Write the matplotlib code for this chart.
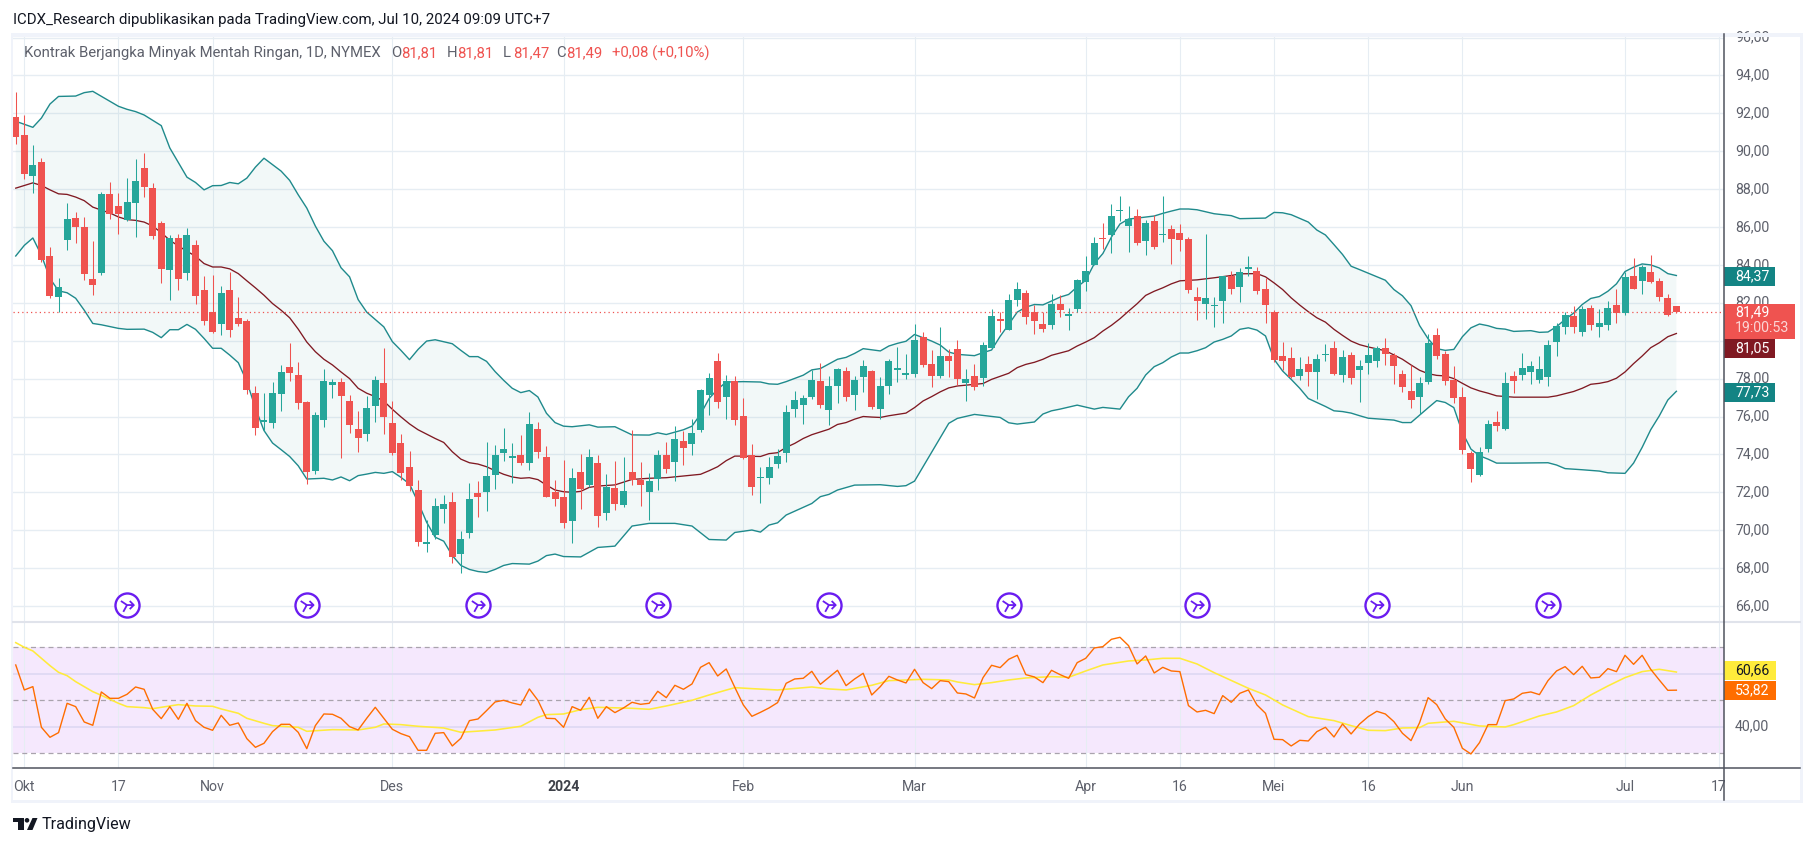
import numpy as np
import matplotlib
matplotlib.use('Agg')
import matplotlib.pyplot as plt
from matplotlib.path import Path
from matplotlib.patches import Rectangle, Circle, Polygon
from matplotlib.transforms import ScaledTranslation

plt.rcParams['font.family'] = ['Roboto', 'DejaVu Sans']

# daily candles
opens = [91.81,90.86,88.67,89.44,84.49,82.30,85.30,86.49,86.02,83.28,
    83.56,87.75,87.12,86.39,87.25,89.12,88.07,86.23,83.72,85.44,
    83.56,85.07,82.65,81.53,80.88,82.65,81.18,81.02,77.22,75.72,
    75.67,77.19,78.60,78.20,76.75,73.14,75.82,77.65,77.81,76.81,
    75.33,75.07,76.54,77.75,75.65,74.59,73.33,72.12,69.28,69.75,
    71.12,71.49,68.75,69.86,71.96,72.02,72.91,74.07,73.81,73.96,
    73.54,75.33,73.86,72.02,71.75,70.49,73.07,72.39,73.54,70.93,
    72.23,71.35,73.07,72.65,72.02,72.72,73.96,73.60,74.70,74.54,
    75.28,77.12,78.91,77.02,77.86,76.02,73.96,72.77,72.75,73.49,
    74.07,76.39,76.60,77.02,77.86,76.33,77.60,78.39,77.12,78.07,
    78.39,76.39,77.60,78.44,78.18,78.23,80.17,78.75,78.12,79.18,
    79.54,77.75,78.12,78.02,79.60,81.17,80.54,82.17,82.54,81.49,
    80.86,80.81,81.96,81.28,81.65,83.12,84.02,85.42,85.60,86.86,
    86.07,86.60,85.28,86.33,85.56,85.91,85.70,85.39,82.28,81.96,
    81.81,82.07,83.39,82.81,83.81,83.70,82.75,81.49,79.18,79.07,
    78.12,78.75,78.33,79.25,79.60,78.18,79.23,78.44,78.81,78.91,
    79.60,79.23,78.23,77.33,77.02,77.81,80.28,79.28,77.91,77.02,
    74.07,72.91,74.28,75.70,75.33,78.12,78.17,78.33,77.91,78.07,
    79.91,80.70,81.28,80.44,81.70,80.70,80.81,81.86,81.44,83.44,
    83.17,83.60,83.17,82.23,81.81]
closes = [90.77,88.82,89.28,84.25,82.35,82.86,86.44,85.98,83.51,82.93,
    87.75,86.67,86.67,87.33,88.44,88.09,85.51,83.77,85.44,83.25,
    85.60,82.35,81.03,80.44,82.54,80.56,80.88,77.40,75.40,75.80,
    77.22,78.33,78.30,76.70,73.09,76.07,77.86,77.81,77.07,75.54,
    74.86,76.44,77.91,75.96,74.07,73.02,72.33,69.38,69.38,71.28,
    71.38,68.59,69.54,71.65,71.75,72.86,73.96,74.28,73.91,73.54,
    75.59,74.12,71.75,71.65,70.38,72.75,72.18,73.86,70.77,72.28,
    71.39,72.07,72.65,72.39,72.60,73.96,73.23,74.81,74.33,75.12,
    77.39,78.02,76.75,77.86,75.81,73.81,72.28,72.81,73.33,73.91,
    76.23,76.86,76.96,77.91,76.60,77.60,78.49,77.02,77.91,78.65,
    76.49,77.60,78.91,78.54,78.28,80.02,78.70,78.12,79.18,78.91,
    77.96,77.96,77.54,79.75,81.28,81.02,82.17,82.75,81.23,81.02,
    80.60,81.96,81.60,81.39,83.18,83.70,85.17,85.38,86.60,86.90,
    86.44,85.17,86.23,84.97,85.65,85.39,85.33,82.65,82.07,82.23,
    81.91,83.39,82.75,83.60,83.86,82.60,81.91,78.96,78.91,78.07,
    78.49,78.33,79.02,79.28,78.23,79.12,78.02,78.65,79.23,79.60,
    79.28,78.65,77.54,76.86,77.75,79.86,79.17,77.86,76.96,74.23,
    73.23,74.12,75.60,75.49,77.75,77.86,78.54,78.65,78.49,79.75,
    80.75,81.33,80.70,81.65,80.81,80.91,81.75,81.47,83.38,82.75,
    83.91,83.12,82.28,81.38,81.49]
highs = [93.10,91.91,90.33,89.65,84.97,83.33,87.28,86.81,86.54,85.28,
    87.86,88.39,87.81,88.60,89.60,89.91,88.33,86.33,85.60,85.65,
    85.96,85.33,83.44,83.49,82.91,83.65,82.33,81.12,77.59,77.22,
    77.81,78.70,79.86,78.86,76.81,76.23,78.49,77.96,78.02,77.12,
    76.28,77.07,78.12,79.59,76.81,75.07,74.17,72.65,70.54,71.70,
    71.86,72.02,69.96,72.49,72.59,74.65,74.49,75.38,74.59,75.02,
    76.23,75.70,74.44,72.65,73.70,73.28,74.02,74.28,73.96,72.96,
    73.65,73.86,75.28,73.60,73.02,74.23,74.65,75.49,75.23,75.86,
    77.45,78.28,79.33,78.18,78.12,76.96,74.54,73.33,73.86,74.28,
    76.60,77.33,77.12,78.44,78.81,78.12,78.54,78.60,78.12,78.96,
    78.44,78.07,79.02,79.65,79.28,80.86,80.44,79.49,80.70,79.54,
    80.02,78.49,78.75,79.91,81.65,81.49,82.49,83.12,82.65,81.91,
    81.49,82.49,82.39,81.75,83.23,84.49,85.49,86.23,87.23,87.65,
    87.12,86.96,86.39,86.65,87.65,86.12,86.17,85.49,82.86,85.65,
    82.28,83.44,83.70,83.86,84.49,83.91,83.33,81.60,79.91,79.65,
    79.12,79.18,79.28,79.81,79.96,79.49,79.39,78.96,79.86,79.70,
    80.12,79.33,78.44,78.70,78.07,80.33,80.65,79.44,78.65,77.54,
    74.17,74.38,75.81,76.28,78.33,78.38,79.33,78.91,79.17,80.02,
    80.96,81.54,81.81,81.81,81.91,81.65,82.07,82.75,83.60,84.38,
    84.02,84.54,83.33,82.49,81.81]
lows = [90.38,88.51,87.82,84.16,82.23,81.52,84.77,85.17,83.19,82.40,
    83.46,86.40,85.65,86.30,85.49,87.60,85.39,83.02,82.14,82.67,
    83.19,81.93,80.81,80.39,80.30,80.18,80.75,77.18,75.02,75.26,
    75.39,76.28,77.86,76.38,72.44,72.96,75.45,76.96,73.81,75.12,
    74.12,74.70,75.70,75.07,73.96,72.65,72.07,69.17,68.86,69.54,
    70.38,68.28,67.75,69.59,70.70,71.02,72.17,73.65,72.49,73.44,
    73.17,73.81,71.75,71.28,70.12,69.33,71.12,72.28,70.18,70.56,
    71.07,71.25,72.39,71.28,70.54,72.12,73.02,72.60,73.44,73.96,
    75.18,76.07,76.44,75.86,75.54,73.75,71.86,71.44,72.44,73.28,
    73.60,75.96,75.60,76.91,76.44,75.54,76.70,76.81,76.33,77.28,
    76.39,75.86,77.17,77.81,77.96,78.07,78.60,77.54,78.02,78.07,
    77.65,76.81,77.39,77.60,79.60,80.44,80.54,81.81,80.86,80.33,
    80.44,80.60,81.23,80.54,81.54,82.60,84.02,84.86,84.65,86.33,
    84.70,85.07,84.54,84.86,85.23,84.07,84.75,82.54,81.07,81.12,
    80.70,80.91,82.44,82.02,83.39,82.44,80.96,78.86,78.44,78.02,
    77.91,77.60,76.91,78.91,78.18,77.81,77.70,76.75,78.23,78.60,
    78.70,77.70,77.28,76.44,76.12,77.70,79.02,77.65,76.70,74.02,
    72.54,72.86,74.12,75.23,75.28,77.23,77.91,77.70,77.75,77.60,
    79.17,80.33,80.38,80.23,80.54,80.17,80.54,80.96,81.38,82.75,
    82.49,83.02,82.07,81.28,81.47]

# bollinger bands, (bar, price) at the bends of each line
upper_pts = [(0,91.58),(2,91.26),(3,91.75),(4,92.49),(5,92.89),(7,92.91),(8,93.09),(9,93.16),(12,92.37),(13,92.21),
    (14,92.09),(15,91.91),(17,91.35),(18,90.17),(20,88.63),(21,88.35),(22,87.96),(23,88.18),(24,88.19),(25,88.35),
    (26,88.28),(27,88.58),(28,89.16),(29,89.63),(31,88.95),(32,88.46),(33,87.70),(34,87.00),(35,86.05),(36,85.25),
    (37,84.75),(38,83.85),(39,83.37),(40,82.17),(41,81.51),(43,80.73),(44,79.95),(45,79.49),(46,79.00),(47,79.54),
    (48,79.98),(49,80.05),(51,79.84),(52,79.49),(53,79.16),(54,79.16),(55,78.91),(56,78.37),(57,77.91),(58,77.49),
    (59,77.26),(60,77.37),(61,77.03),(62,76.17),(63,75.68),(64,75.49),(65,75.46),(67,75.56),(68,75.44),(70,75.46),
    (72,75.03),(74,75.02),(75,75.14),(76,75.05),(78,75.30),(79,75.49),(80,76.12),(81,76.95),(82,77.44),(83,77.82),
    (85,77.84),(87,77.82),(88,77.72),(89,77.70),(90,77.84),(92,78.18),(93,78.46),(94,78.53),(96,79.02),(97,79.12),
    (98,79.33),(99,79.58),(101,79.46),(102,79.72),(103,79.86),(104,79.97),(105,80.33),(107,79.98),(108,79.77),(109,79.40),
    (110,79.28),(112,79.21),(113,79.37),(114,79.51),(115,80.23),(116,80.86),(117,81.51),(118,81.77),(119,81.91),(120,81.89),
    (122,82.30),(123,82.44),(124,82.84),(125,83.19),(126,84.07),(127,84.60),(128,85.47),(129,86.16),(130,86.42),(131,86.47),
    (133,86.58),(134,86.72),(135,86.84),(136,86.95),(137,86.95),(138,86.91),(140,86.70),(142,86.60),(143,86.44),(146,86.47),
    (147,86.77),(148,86.75),(149,86.65),(151,86.26),(152,85.84),(153,85.58),(154,85.07),(155,84.55),(156,83.93),(157,83.75),
    (160,83.19),(161,82.70),(162,82.37),(163,81.85),(164,80.80),(165,80.10),(166,79.58),(167,79.49),(168,79.54),(169,80.21),
    (170,80.68),(171,80.88),(172,80.79),(173,80.65),(174,80.61),(175,80.49),(177,80.53),(178,80.44),(179,80.46),(180,80.74),
    (181,81.12),(182,81.46),(183,81.91),(184,82.23),(185,82.33),(186,82.61),(187,83.00),(188,83.65),(189,83.88),(190,84.05),
    (191,84.00),(192,83.84),(193,83.54),(194,83.44)]
basis_pts = [(0,88.05),(1,88.19),(2,88.33),(3,88.19),(4,87.96),(5,87.75),(6,87.72),(7,87.58),(8,87.39),(9,87.05),
    (10,86.89),(11,86.74),(12,86.53),(13,86.39),(14,86.35),(15,86.26),(16,86.05),(17,85.70),(18,85.30),(19,85.00),
    (20,84.72),(21,84.46),(22,84.07),(23,83.89),(24,83.89),(25,83.79),(26,83.54),(27,83.16),(28,82.79),(29,82.40),
    (30,81.96),(31,81.61),(32,81.21),(33,80.61),(34,79.93),(35,79.42),(36,79.02),(37,78.72),(38,78.35),(39,78.00),
    (40,77.49),(41,77.23),(42,77.05),(43,76.81),(44,76.38),(45,75.98),(46,75.61),(47,75.30),(48,75.07),(49,74.84),
    (50,74.63),(51,74.14),(52,73.75),(53,73.56),(54,73.49),(55,73.35),(56,73.14),(57,72.95),(58,72.81),(59,72.74),
    (60,72.77),(61,72.67),(62,72.38),(63,72.12),(64,72.03),(65,72.00),(66,72.05),(67,72.26),(68,72.33),(70,72.39),
    (72,72.68),(74,72.74),(76,72.77),(78,72.86),(80,72.95),(81,73.14),(82,73.35),(83,73.67),(84,73.91),(85,73.91),
    (87,73.89),(88,74.04),(89,74.09),(90,74.37),(91,74.58),(92,74.84),(93,75.04),(95,75.33),(96,75.58),(97,75.68),
    (98,75.86),(99,76.00),(100,75.97),(101,75.95),(102,76.04),(104,76.18),(105,76.47),(106,76.82),(107,77.05),(108,77.30),
    (109,77.51),(110,77.61),(112,77.70),(113,77.74),(114,77.96),(116,78.28),(117,78.58),(118,78.75),(119,78.86),(120,79.02),
    (121,79.23),(123,79.47),(124,79.72),(125,79.93),(126,80.16),(127,80.51),(128,80.81),(129,81.16),(130,81.56),(131,81.95),
    (132,82.39),(133,82.61),(134,82.79),(135,83.00),(136,83.16),(138,83.21),(140,83.32),(142,83.44),(143,83.53),(145,83.54),
    (146,83.37),(147,83.05),(148,82.70),(149,82.26),(150,81.88),(151,81.53),(152,81.21),(153,80.98),(154,80.60),(155,80.28),
    (156,79.98),(157,79.79),(158,79.67),(160,79.47),(161,79.25),(162,79.02),(163,78.72),(164,78.44),(165,78.26),(166,78.17),
    (167,78.14),(168,78.00),(169,77.75),(170,77.51),(171,77.35),(172,77.23),(173,77.09),(175,77.02),(179,77.02),(180,77.09),
    (182,77.32),(183,77.49),(184,77.70),(185,77.75),(186,77.84),(187,78.02),(188,78.35),(189,78.79),(190,79.19),(191,79.63),
    (192,79.89),(193,80.21),(194,80.38)]
lower_pts = [(0,84.47),(1,85.03),(2,85.42),(3,84.51),(4,83.28),(5,82.63),(6,82.53),(7,82.24),(8,81.61),(9,80.91),
    (10,80.84),(12,80.65),(13,80.60),(15,80.61),(16,80.44),(17,80.16),(18,80.58),(19,80.58),(20,80.86),(21,80.60),
    (22,80.12),(23,79.60),(24,79.60),(25,79.24),(26,78.84),(27,77.84),(28,76.44),(29,75.26),(30,74.60),(31,74.25),
    (32,73.89),(33,73.40),(34,72.70),(35,72.72),(36,72.74),(37,72.65),(38,72.81),(39,72.61),(40,72.88),(41,72.96),
    (42,73.05),(43,73.00),(44,73.09),(45,72.79),(46,72.44),(47,71.47),(48,70.42),(49,69.63),(50,69.42),(51,68.66),
    (52,68.14),(53,67.93),(54,67.82),(55,67.77),(56,67.93),(57,68.14),(58,68.24),(60,68.21),(61,68.37),(62,68.66),
    (63,68.74),(64,68.61),(66,68.59),(68,69.09),(70,69.16),(72,70.22),(74,70.36),(77,70.36),(79,70.22),(81,69.51),
    (83,69.48),(84,69.88),(86,70.01),(87,69.90),(88,70.27),(89,70.39),(90,70.80),(93,71.41),(94,71.77),(95,71.89),
    (96,72.12),(98,72.38),(101,72.40),(103,72.31),(104,72.35),(105,72.59),(109,75.64),(110,75.90),(112,76.11),(115,75.95),
    (116,75.67),(117,75.60),(119,75.71),(120,76.13),(121,76.30),(122,76.39),(124,76.60),(126,76.39),(127,76.48),(129,76.39),
    (130,77.04),(131,77.49),(132,78.19),(133,78.63),(134,78.84),(135,79.14),(136,79.35),(137,79.35),(138,79.47),(139,79.63),
    (140,79.93),(141,80.07),(142,80.25),(143,80.60),(144,80.68),(145,80.56),(146,80.25),(147,79.02),(148,78.40),(149,77.96),
    (150,77.49),(151,76.95),(152,76.74),(153,76.53),(154,76.30),(155,76.26),(156,76.18),(157,76.04),(158,75.91),(160,75.84),
    (161,75.81),(162,75.68),(163,75.68),(164,76.07),(165,76.46),(166,76.84),(167,76.74),(168,76.47),(169,75.16),(170,74.28),
    (171,73.93),(172,73.75),(173,73.54),(175,73.54),(179,73.56),(180,73.44),(181,73.25),(183,73.19),(185,73.12),(186,73.03),
    (188,73.00),(189,73.54),(190,74.37),(191,75.30),(192,76.03),(193,76.87),(194,77.33)]

# RSI pane
rsi = [63.33,53.90,55.16,39.81,36.04,37.80,48.87,47.61,41.82,40.57,
    53.15,50.75,50.75,52.26,55.03,54.15,46.60,43.08,47.61,42.83,
    48.87,42.33,39.81,38.68,44.34,40.57,41.45,35.53,32.26,33.77,
    38.17,40.94,40.94,37.92,31.76,40.44,44.84,44.72,43.21,40.06,
    38.80,43.21,47.36,43.21,39.06,37.42,36.29,31.13,31.13,37.55,
    37.80,32.77,35.66,42.33,42.95,46.10,49.37,50.00,49.00,48.24,
    54.28,50.00,43.21,43.08,39.81,47.61,46.22,51.13,43.21,47.61,
    45.35,47.11,49.25,48.49,48.87,53.40,51.00,55.66,54.15,56.16,
    62.45,64.21,59.18,61.82,54.91,48.24,43.96,45.47,47.11,49.12,
    56.41,58.05,58.30,60.94,56.04,58.68,61.32,55.53,58.05,60.19,
    52.01,55.16,59.05,57.67,56.54,
    61.70,56.67,54.40,57.42,57.04,52.77,52.39,50.88,58.55,63.21,
    62.33,65.47,66.98,59.69,58.81,56.67,61.32,59.69,58.30,64.21,
    65.85,69.75,70.25,73.02,73.77,70.63,63.71,66.73,60.31,62.45,
    61.07,60.82,47.99,45.60,46.22,44.97,51.76,49.25,52.64,53.90,
    48.24,45.09,35.28,35.16,32.77,34.90,34.65,38.17,39.81,36.16,
    41.07,37.30,41.07,43.84,45.85,44.84,41.95,37.55,34.78,41.57,
    51.00,48.37,42.95,39.81,31.89,29.75,34.03,40.82,40.82,49.88,
    50.50,52.64,53.15,52.14,57.42,61.07,62.70,59.69,62.83,58.43,
    58.68,61.95,60.82,66.98,63.58,66.98,61.70,57.67,53.77,53.82]
rsi_ma_pts = [(0,71.76),(1,70.00),(2,68.62),(3,65.85),(4,63.08),(5,60.57),(6,59.30),(7,57.04),(9,53.27),(10,51.88),
    (12,48.87),(13,47.61),(15,47.23),(16,46.85),(18,47.86),(19,48.36),(21,47.86),(23,47.74),(24,46.73),(26,45.10),
    (27,43.21),(29,41.32),(30,40.44),(33,39.81),(34,38.30),(37,38.93),(40,38.80),(42,39.81),(43,41.07),(45,40.82),
    (47,40.19),(50,39.56),(52,37.93),(56,38.80),(59,40.19),(61,43.58),(62,44.59),(64,44.84),(66,46.48),(68,47.36),
    (72,46.98),(74,46.60),(76,47.86),(79,50.00),(81,52.01),(84,54.78),(86,54.40),(89,53.90),(93,55.03),(95,54.28),
    (97,53.90),(100,55.66),(102,57.42),(104,57.67),(106,57.92),(109,57.67),(110,56.92),(112,55.91),(114,56.67),(116,57.67),
    (118,58.43),(121,58.93),(123,58.68),(125,61.07),(127,63.33),(130,64.84),(132,65.22),(134,65.85),(136,65.85),(138,63.71),
    (140,60.44),(144,54.53),(146,52.01),(148,48.24),(151,43.84),(154,42.33),(156,40.44),(158,38.68),(160,38.55),(162,39.56),
    (164,39.69),(165,41.32),(168,42.08),(171,40.31),(174,39.94),(175,40.82),(178,44.09),(180,45.60),(182,47.99),(184,52.01),
    (186,55.41),(188,58.55),(190,60.82),(192,61.70),(194,60.66)]

idea_bars = [13, 34, 54, 75, 95, 116, 138, 159, 179]

price_ticks = [66, 68, 70, 72, 74, 76, 78, 80, 82, 84, 86, 88, 90, 92, 94, 96]
time_ticks = [1, 12, 23, 44, 64, 85, 105, 125, 136, 147, 158, 169, 188, 199]
time_labels = ['Okt', '17', 'Nov', 'Des', '2024', 'Feb', 'Mar', 'Apr', '16', 'Mei', '16', 'Jun', 'Jul', '17']
last_close = 81.49

W, H = 1814, 846
BAR0, BAR_W = 15.74, 8.56   # pixel x of bar 0, pixels per bar
UP, DOWN = '#26a69a', '#ef5350'
TEAL, MAROON = '#1f8a8c', '#801922'
GRID = '#e6edf3'
TXT = '#5d606b'


def px_axes(left, top, right, bottom):
    return fig.add_axes([left / W, 1 - bottom / H, (right - left) / W, (bottom - top) / H])


fig = plt.figure(figsize=(W / 100, H / 100), dpi=100, facecolor='white')
ax = px_axes(13, 34, 1724, 622)
ax2 = px_axes(13, 622, 1724, 768)

xlim = ((13 - BAR0) / BAR_W, (1724 - BAR0) / BAR_W)
for a in (ax, ax2):
    a.set_xlim(*xlim)
    a.set_xticks(time_ticks)
    a.grid(axis='x', color=GRID, lw=0.8, zorder=0)
    a.set_axisbelow(True)
    for s in a.spines.values():
        s.set_visible(False)
    a.tick_params(length=0)

# price pane
ax.set_ylim(96 - (622 - 37.5) / 18.95, 96 + (37.5 - 34) / 18.95)
ax.set_xticklabels([])
ax.yaxis.tick_right()
ax.set_yticks(price_ticks)
ax.set_yticklabels(['%d,00' % p for p in price_ticks], color=TXT, fontsize=10.2)
ax.tick_params(axis='y', pad=8)
ax.grid(axis='y', color=GRID, lw=1.0, zorder=0)

up_x, up_y = zip(*upper_pts)
mid_x, mid_y = zip(*basis_pts)
lo_x, lo_y = zip(*lower_pts)
ax.fill(list(up_x) + list(lo_x[::-1]), list(up_y) + list(lo_y[::-1]), color='#138484', alpha=0.05, lw=0, zorder=1)
ax.plot(up_x, up_y, color=TEAL, lw=1.0, zorder=2)
ax.plot(lo_x, lo_y, color=TEAL, lw=1.0, zorder=2)
ax.plot(mid_x, mid_y, color=MAROON, lw=0.95, zorder=2)
ax.axhline(last_close, color=DOWN, lw=0.9, ls=(0, (1, 2.5)), zorder=2)

bars = np.arange(len(closes))
o, c = np.array(opens), np.array(closes)
colors = [UP if cl >= op else DOWN for op, cl in zip(opens, closes)]
ax.vlines(bars, lows, highs, colors=colors, lw=0.75, zorder=3)
ax.bar(bars, np.maximum(np.abs(c - o), 0.06), bottom=np.minimum(o, c), width=0.82, color=colors, lw=0, zorder=4)

# the published-idea badges
glyph = Path([(-0.9, 0.6), (0.0, 0.0), (1.0, 0.0), (0.4, 0.6), (1.0, 0.0), (0.4, -0.6), (-0.55, -1.0), (0.0, 0.0)],
             [Path.MOVETO, Path.LINETO, Path.LINETO, Path.LINETO, Path.MOVETO, Path.LINETO, Path.MOVETO, Path.LINETO])
idea_y = [66.05] * len(idea_bars)
ax.scatter(idea_bars, idea_y, s=300, marker='o', facecolor='white', edgecolor='#6a1cf0', lw=1.7, zorder=5)
ax.scatter(idea_bars, idea_y, s=95, marker=glyph, facecolor='none', edgecolor='#6a1cf0', lw=1.3, zorder=6)

# RSI pane
ax2.set_ylim(70 - (768 - 647.3) / 2.65, 70 + (647.3 - 622) / 2.65)
ax2.axhspan(30, 70, color='#f5e8fd', lw=0, zorder=0.5)
for lev in (40, 60):
    ax2.axhline(lev, color='#dcd7f2', lw=1.1, zorder=1)
for lev in (30, 50, 70):
    ax2.axhline(lev, color='#a9a3ad', lw=0.9, ls=(0, (4, 3)), zorder=1)
ax2.plot(bars, rsi, color='#ff6d00', lw=1.0, zorder=3)
ma_x, ma_y = zip(*rsi_ma_pts)
ax2.plot(ma_x, ma_y, color='#ffeb3b', lw=1.15, zorder=2)
ax2.yaxis.tick_right()
ax2.set_yticks([40])
ax2.set_yticklabels(['40,00'], color=TXT, fontsize=10.2)
ax2.tick_params(axis='y', pad=8)
ax2.set_xticklabels(time_labels, color=TXT, fontsize=10.2)
ax2.tick_params(axis='x', pad=8.6)
ax2.get_xticklabels()[4].set_fontweight('bold')
ax2.get_xticklabels()[4].set_color('#3d4048')

# tick labels sit a little higher than matplotlib centres them
nudge = ScaledTranslation(0, 1.6 / 100, fig.dpi_scale_trans)
for label in ax.get_yticklabels() + ax2.get_yticklabels():
    label.set_transform(label.get_transform() + nudge)

# everything around the panes, in pixel coordinates
ov = px_axes(0, 0, W, H)
ov.set_xlim(0, W)
ov.set_ylim(H, 0)
ov.axis('off')
ov.patch.set_alpha(0)

ov.add_patch(Rectangle((1725, 769), 75, 31, color='white', lw=0))  # cuts the last "17" at the price axis
frame = '#f0f3fa'
for r in [(11, 33, 2, 770), (11, 33, 1792, 4), (11, 800, 1792, 3), (1800, 33, 3, 770)]:
    ov.add_patch(Rectangle(r[:2], r[2], r[3], color=frame, lw=0))
ov.plot([13, 1800], [622, 622], color='#e0e3eb', lw=1.5)
ov.plot([13, 1800], [768, 768], color='#50535e', lw=1.1)
ov.plot([1724, 1724], [34, 800], color='#50535e', lw=1.1)

ov.text(13, 20, 'ICDX_Research dipublikasikan pada TradingView.com, Jul 10, 2024 09:09 UTC+7',
        color='#131722', fontsize=10.8, va='center')
ov.text(24, 53, 'Kontrak Berjangka Minyak Mentah Ringan, 1D, NYMEX', color=TXT, fontsize=10.75, va='center')
legend_items = [(391, 'O', '81,81'), (447, 'H', '81,81'), (503, 'L', '81,47'), (556, 'C', '81,49')]
for x, k, v in legend_items:
    ov.text(x, 53, k, color=TXT, fontsize=10.75, va='center')
    ov.text(x + 10, 53, v, color=DOWN, fontsize=10.75, va='center')
ov.text(612, 53, '+0,08 (+0,10%)', color=DOWN, fontsize=10.75, va='center')


def box(top, bottom, right, color, text, tcol='white'):
    ov.add_patch(Rectangle((1724, top), right - 1724, bottom - top, color=color, lw=0))
    ov.text(1735, (top + bottom) / 2, text, color=tcol, fontsize=10.2, va='center')


box(267, 286, 1775, '#138484', '84,37')
box(339, 358, 1775, MAROON, '81,05')
box(383, 402, 1775, '#138484', '77,73')
ov.add_patch(Rectangle((1724, 304), 71, 35, color=DOWN, lw=0))
ov.text(1735, 312.5, '81,49', color='white', fontsize=10.2, va='center')
ov.text(1735, 328.5, '19:00:53', color='#fbd5d4', fontsize=10.2, va='center')
box(661, 680, 1776, '#ffeb3b', '60,66', '#131722')
box(681, 700, 1776, '#ff6d00', '53,82')

# logo
logo = '#131722'
ov.add_patch(Rectangle((13, 818), 11, 4.5, color=logo, lw=0))
ov.add_patch(Rectangle((18, 818), 5.5, 12, color=logo, lw=0))
ov.add_patch(Circle((27, 820.3), 2.3, color=logo, lw=0))
ov.add_patch(Polygon([(32.5, 818), (37.5, 818), (32.5, 830), (27, 830)], color=logo, lw=0))
ov.text(42, 825, 'TradingView', color=logo, fontsize=11.6, va='center')

fig.savefig('out.png', dpi=100, facecolor='white')
